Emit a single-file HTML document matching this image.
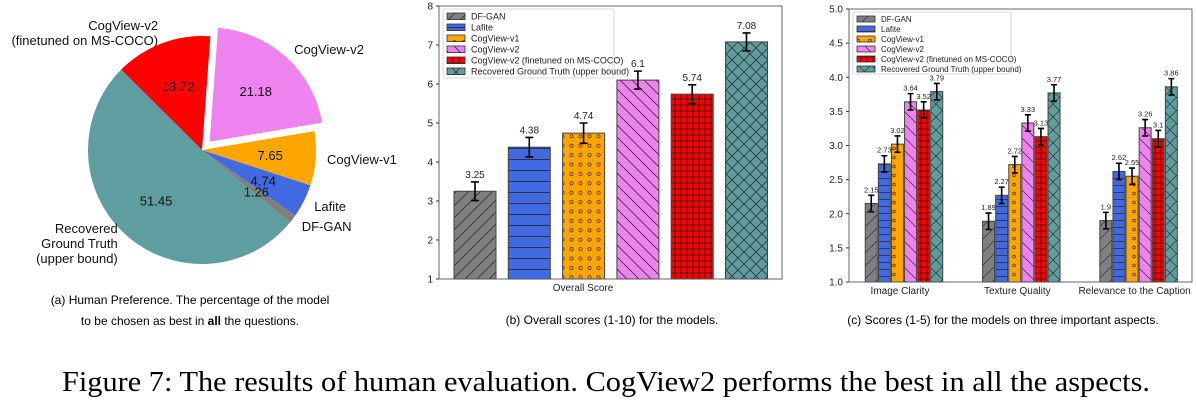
<!DOCTYPE html>
<html><head><meta charset="utf-8">
<style>
html,body{margin:0;padding:0;background:#fff;}
svg{display:block;font-family:"Liberation Sans","DejaVu Sans",sans-serif;}
</style></head>
<body>
<svg id="fig" width="1197" height="400" viewBox="0 0 1197 400" xmlns="http://www.w3.org/2000/svg">
<defs>
  <pattern id="hs-m" width="12" height="12" patternUnits="userSpaceOnUse"><rect width="12" height="12" fill="#808080"/><path d="M-3,15 L15,-3 M-3,3 L3,-3 M9,15 L15,9" stroke="#333" stroke-width="0.8"/></pattern>
  <pattern id="hh-m" width="12" height="11" patternUnits="userSpaceOnUse"><rect width="12" height="11" fill="#4169e1"/><path d="M0,5.5 H12" stroke="#222" stroke-width="0.8"/></pattern>
  <pattern id="ho-m" width="9" height="9.4" patternUnits="userSpaceOnUse"><rect width="9" height="9.4" fill="#ffa500"/><circle cx="4.5" cy="4.7" r="1.6" fill="none" stroke="#333" stroke-width="0.7"/></pattern>
  <pattern id="hb-m" width="12" height="12" patternUnits="userSpaceOnUse"><rect width="12" height="12" fill="#ee82ee"/><path d="M-3,-3 L15,15 M-3,9 L3,15 M9,-3 L15,3" stroke="#333" stroke-width="0.8"/></pattern>
  <pattern id="hp-m" width="6" height="6" patternUnits="userSpaceOnUse"><rect width="6" height="6" fill="#ff0000"/><path d="M0,3 H6 M3,0 V6" stroke="#222" stroke-width="0.8"/></pattern>
  <pattern id="hx-m" width="12" height="12" patternUnits="userSpaceOnUse"><rect width="12" height="12" fill="#5f9ea0"/><path d="M0,0 L12,12 M12,0 L0,12" stroke="#333" stroke-width="0.8"/></pattern>

  <pattern id="hs-s" width="13" height="13" patternUnits="userSpaceOnUse"><rect width="13" height="13" fill="#808080"/><path d="M-3,16 L16,-3 M-3,3 L3,-3 M10,16 L16,10" stroke="#333" stroke-width="0.7"/></pattern>
  <pattern id="hh-s" width="12" height="7" patternUnits="userSpaceOnUse"><rect width="12" height="7" fill="#4169e1"/><path d="M0,3.5 H12" stroke="#222" stroke-width="0.7"/></pattern>
  <pattern id="ho-s" width="12" height="9" patternUnits="userSpaceOnUse"><rect width="12" height="9" fill="#ffa500"/><circle cx="6" cy="4.5" r="1.4" fill="none" stroke="#333" stroke-width="0.7"/></pattern>
  <pattern id="hb-s" width="13" height="13" patternUnits="userSpaceOnUse"><rect width="13" height="13" fill="#ee82ee"/><path d="M-3,-3 L16,16 M-3,10 L3,16 M10,-3 L16,3" stroke="#333" stroke-width="0.7"/></pattern>
  <pattern id="hp-s" width="6" height="6" patternUnits="userSpaceOnUse"><rect width="6" height="6" fill="#ff0000"/><path d="M0,3 H6 M3,0 V6" stroke="#222" stroke-width="0.7"/></pattern>
  <pattern id="hx-s" width="13" height="13" patternUnits="userSpaceOnUse"><rect width="13" height="13" fill="#5f9ea0"/><path d="M0,0 L13,13 M13,0 L0,13" stroke="#333" stroke-width="0.7"/></pattern>
</defs>
<g id="pie"></g>
<g id="mid"></g>
<g id="right"></g>

<text x="190" y="304" font-size="12" text-anchor="middle">(a) Human Preference. The percentage of the model</text>
<text x="190" y="325" font-size="12" text-anchor="middle">to be chosen as best in <tspan font-weight="bold">all</tspan> the questions.</text>
<text x="612" y="324" font-size="12" text-anchor="middle">(b) Overall scores (1-10) for the models.</text>
<text x="1003" y="324" font-size="12" text-anchor="middle">(c) Scores (1-5) for the models on three important aspects.</text>
<text x="62" y="391" font-size="28" textLength="1088" lengthAdjust="spacingAndGlyphs" font-family="Liberation Serif, serif">Figure 7: The results of human evaluation. CogView2 performs the best in all the aspects.</text>
</svg>
<script>
const NS = "http://www.w3.org/2000/svg";
// ---- Pie data ----
const pieLabels = ["DF-GAN","Lafite","CogView-v1","CogView-v2","CogView-v2\n(finetuned on MS-COCO)","Recovered\nGround Truth\n(upper bound)"];
const pieValues = [1.26,4.74,7.65,21.18,13.72,51.45];
const pieExplode = [0,0,0,0.1,0,0];
const pieColors = ["#808080","#4169e1","#ffa500","#ee82ee","#ff0000","#5f9ea0"];
// ---- Overall score data ----
const models = ["DF-GAN","Lafite","CogView-v1","CogView-v2","CogView-v2 (finetuned on MS-COCO)","Recovered Ground Truth (upper bound)"];
const overallValues = [3.25,4.38,4.74,6.1,5.74,7.08];
const overallErr = [0.24,0.25,0.26,0.23,0.24,0.23];
const overallTicks = [1,2,3,4,5,6,7,8];
// ---- Aspect score data ----
const aspects = ["Image Clarity","Texture Quality","Relevance to the Caption"];
const aspectValues = [
  [2.15,1.89,1.9],
  [2.73,2.27,2.62],
  [3.02,2.72,2.55],
  [3.64,3.33,3.26],
  [3.52,3.13,3.1],
  [3.79,3.77,3.86]
];
const aspectErr = [0.12,0.12,0.12,0.12,0.12,0.12];
const aspectTicks = [1.0,1.5,2.0,2.5,3.0,3.5,4.0,4.5,5.0];
const hatchKeys = ["hs","hh","ho","hb","hp","hx"];

function mk(tag, attrs, parent, text){
  const e = document.createElementNS(NS, tag);
  for (const k in attrs) e.setAttribute(k, attrs[k]);
  if (text !== undefined) e.textContent = text;
  parent.appendChild(e);
  return e;
}

// ---------- PIE ----------
(function(){
  const g = document.getElementById('pie');
  const slices = mk('g',{}, g);
  const labels = mk('g',{}, g);
  const cx = 202, cy = 150, r = 114;
  const total = pieValues.reduce((a,b)=>a+b,0);
  let ang = -39.6;
  pieValues.forEach((v,i)=>{
    const sweep = v/total*360;
    const mid = (ang + sweep/2) * Math.PI/180;
    const off = pieExplode[i]*r;
    const ox = cx + off*Math.cos(mid), oy = cy - off*Math.sin(mid);
    const a0 = ang*Math.PI/180, a1 = (ang+sweep)*Math.PI/180;
    const x0 = ox + r*Math.cos(a0), y0 = oy - r*Math.sin(a0);
    const x1 = ox + r*Math.cos(a1), y1 = oy - r*Math.sin(a1);
    const large = sweep > 180 ? 1 : 0;
    const p = mk('path',{d:`M${ox},${oy} L${x0},${y0} A${r},${r} 0 ${large} 0 ${x1},${y1} Z`, fill:pieColors[i]}, slices);
    
    
    const tx = ox + 0.6*r*Math.cos(mid), ty = oy - 0.6*r*Math.sin(mid);
    const t = mk('text',{x:tx, y:ty+5, 'font-size':13, 'text-anchor':'middle', fill:'#111'}, labels, v.toFixed(2));
    
    
    const lx = ox + 1.1*r*Math.cos(mid), ly = oy - 1.1*r*Math.sin(mid);
    const lines = pieLabels[i].split('\n');
    const anchor = Math.cos(mid) >= 0 ? 'start' : 'end';
    const lh = 15;
    const y0t = ly - (lines.length-1)*lh/2 + 5;
    const lab = mk('text',{'font-size':13, 'text-anchor': anchor, fill:'#111'}, labels);
    
    
    lines.forEach((ln,j)=>{ mk('tspan',{x: lx, y: y0t + j*lh}, lab, ln); });
    ang += sweep;
  });
})();

function legend(g, x, y, w, h, rowH, fs, suffix){
  const box = mk('rect',{x:x,y:y,width:w,height:h,fill:'#fff',stroke:'#ccc','stroke-width':0.8,rx:2}, g);
  
  
  models.forEach((m,i)=>{
    const yy = y + 4 + i*rowH;
    const sw = mk('rect',{x:x+4,y:yy,width:18,height:rowH*0.6,fill:`url(#${hatchKeys[i]}-${suffix})`,stroke:'#333','stroke-width':0.8}, g);
    
    
    const t = mk('text',{x:x+28,y:yy+rowH*0.6,'font-size':fs,fill:'#222'}, g, m);
    
    
  });
}

function errbar(g, x, yTop, yBot, cap){
  const e = mk('path',{d:`M${x},${yTop} V${yBot} M${x-cap},${yTop} H${x+cap} M${x-cap},${yBot} H${x+cap}`,stroke:'#000','stroke-width':1.6,fill:'none'}, g);
  
  
}

// ---------- MIDDLE ----------
(function(){
  const g = document.getElementById('mid');
  const L=439, R=782, T=6, B=279, vmin=1, vmax=8;
  const y = v => B - (v-vmin)/(vmax-vmin)*(B-T);
  const bw = 42, step = 54.3, x0 = 475;
  overallTicks.forEach(t=>{
    mk('line',{x1:L-3,x2:L,y1:y(t),y2:y(t),stroke:'#333'}, g);
    const tl = mk('text',{x:L-6,y:y(t)+3.5,'font-size':10,'text-anchor':'end',fill:'#222'}, g, t);
    
    
  });
  overallValues.forEach((v,i)=>{
    const cx = x0 + i*step;
    const b = mk('rect',{x:cx-bw/2,y:y(v),width:bw,height:B-y(v),fill:`url(#${hatchKeys[i]}-m)`,stroke:'#444','stroke-width':1}, g);
    
    
    errbar(g, cx, y(v+overallErr[i]), y(v-overallErr[i]), 4);
    const t = mk('text',{x:cx,y:y(v+overallErr[i])-4,'font-size':10,'text-anchor':'middle',fill:'#222'}, g, v);
    
    
  });
  mk('rect',{x:L,y:T,width:R-L,height:B-T,fill:'none',stroke:'#555','stroke-width':0.9}, g);
  const xl = mk('text',{x:583,y:291,'font-size':10,'text-anchor':'middle',fill:'#222'}, g, 'Overall Score');
  
  
  legend(g, 443, 9, 171, 69, 11, 9, 'm');
})();

// ---------- RIGHT ----------
(function(){
  const g = document.getElementById('right');
  const L=849, R=1192, T=9, B=282, vmin=1, vmax=5;
  const y = v => B - (v-vmin)/(vmax-vmin)*(B-T);
  const bw = 12, step = 13.1, gstep = 117.3, g0 = 904;
  aspectTicks.forEach(t=>{
    mk('line',{x1:L-3,x2:L,y1:y(t),y2:y(t),stroke:'#333'}, g);
    const tl = mk('text',{x:L-6,y:y(t)+3.5,'font-size':10,'text-anchor':'end',fill:'#222'}, g, t.toFixed(1));
    
    
  });
  aspects.forEach((a,j)=>{
    const gc = g0 + j*gstep;
    aspectValues.forEach((vals,i)=>{
      const v = vals[j];
      const cx = gc + (i-2.5)*step;
      const b = mk('rect',{x:cx-bw/2,y:y(v),width:bw,height:B-y(v),fill:`url(#${hatchKeys[i]}-s)`,stroke:'#444','stroke-width':1}, g);
      
      
      errbar(g, cx, y(v+aspectErr[i]), y(v-aspectErr[i]), 3);
      const t = mk('text',{x:cx,y:y(v+aspectErr[i])-3,'font-size':7.5,'text-anchor':'middle',fill:'#222'}, g, v);
      
      
    });
    const xl = mk('text',{x:gc-4,y:294,'font-size':10,'text-anchor':'middle',fill:'#222'}, g, a);
    
    
  });
  mk('rect',{x:L,y:T,width:R-L,height:B-T,fill:'none',stroke:'#555','stroke-width':0.9}, g);
  legend(g, 853, 12, 158, 62, 10, 8, 's');
})();
</script>
</body></html>
